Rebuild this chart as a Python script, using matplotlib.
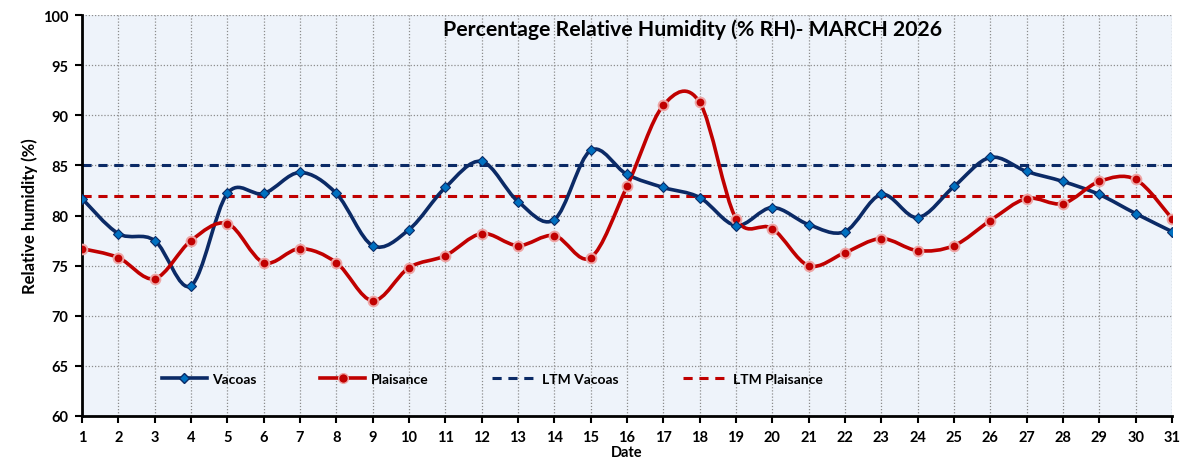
import numpy as np
import matplotlib.pyplot as plt
from matplotlib.path import Path
from matplotlib.patches import PathPatch
from matplotlib.lines import Line2D

plt.rcParams['font.family'] = ['Lato', 'DejaVu Sans']
plt.rcParams['font.weight'] = 'bold'

# data
days = list(range(1, 32))
vacoas = [81.7, 78.2, 77.5, 73.0, 82.2, 82.2, 84.3, 82.2, 77.0, 78.6,
          82.8, 85.4, 81.4, 79.6, 86.5, 84.1, 82.8, 81.8, 79.0, 80.8,
          79.1, 78.4, 82.1, 79.8, 82.9, 85.8, 84.4, 83.4, 82.1, 80.2, 78.4]
plaisance = [76.7, 75.8, 73.7, 77.5, 79.2, 75.3, 76.7, 75.3, 71.5, 74.8,
             76.0, 78.2, 77.0, 78.0, 75.8, 82.9, 91.0, 91.3, 79.7, 78.7,
             75.0, 76.3, 77.7, 76.5, 77.0, 79.5, 81.7, 81.2, 83.4, 83.6, 79.7]
ltm_vacoas = 85
ltm_plaisance = 82

navy = '#0B2A66'
red = '#C00000'


def smooth_path(x, y):
    # excel style smoothed line: cubic bezier through every point
    pts = np.column_stack([x, y]).astype(float)
    n = len(pts)
    verts = [pts[0]]
    codes = [Path.MOVETO]
    for i in range(n - 1):
        p0 = pts[max(i - 1, 0)]
        p1 = pts[i]
        p2 = pts[i + 1]
        p3 = pts[min(i + 2, n - 1)]
        verts += [p1 + (p2 - p0) / 6, p2 - (p3 - p1) / 6, p2]
        codes += [Path.CURVE4] * 3
    return Path(verts, codes)


fig = plt.figure(figsize=(11.82, 4.6), dpi=100)
ax = fig.add_axes([0.0694, 0.0935, 0.9221, 0.8715])
ax.set_facecolor('#EEF3FA')

ax.axhline(ltm_vacoas, color=navy, lw=2.2, ls=(0, (3, 2.2)), zorder=2)
ax.axhline(ltm_plaisance, color=red, lw=2.2, ls=(0, (3, 2.2)), zorder=2)

ax.add_patch(PathPatch(smooth_path(days, vacoas), fill=False, edgecolor=navy,
                       lw=2.6, zorder=3, capstyle='round'))
ax.add_patch(PathPatch(smooth_path(days, plaisance), fill=False, edgecolor=red,
                       lw=2.6, zorder=3, capstyle='round'))
ax.plot(days, vacoas, ls='none', marker='D', ms=5, mfc='#0070C0', mec=navy,
        mew=0.8, zorder=5)
ax.plot(days, plaisance, ls='none', marker='o', ms=7, mfc=red, mec='#EDA5A5',
        mew=1.4, zorder=4)

ax.set_xlim(1, 31)
ax.set_ylim(60, 100)
ax.set_xticks(days)
ax.set_yticks(range(60, 101, 5))
ax.grid(True, color='#8c8c8c', lw=0.9, ls=(0, (1, 1.5)))
ax.set_axisbelow(True)

for s in ['top', 'right']:
    ax.spines[s].set_visible(False)
for s in ['left', 'bottom']:
    ax.spines[s].set_linewidth(2)
    ax.spines[s].set_color('black')
ax.tick_params(direction='out', length=5, width=1.5, labelsize=10.5, pad=5)
for lab in ax.get_xticklabels() + ax.get_yticklabels():
    lab.set_fontweight('bold')

ax.set_xlabel('Date', fontsize=10.5, fontweight='bold', labelpad=1)
ax.set_ylabel('Relative humidity (%)', fontsize=12, fontweight='bold', labelpad=3)
ax.text(0.56, 0.965, 'Percentage Relative Humidity (% RH)- MARCH 2026',
        transform=ax.transAxes, ha='center', va='center', fontsize=15.3,
        fontweight='bold')

handles = [
    Line2D([], [], color=navy, lw=2.6, marker='D', ms=5, mfc='#0070C0', mec=navy),
    Line2D([], [], color=red, lw=2.6, marker='o', ms=7, mfc=red, mec='#EDA5A5'),
    Line2D([], [], color=navy, lw=2.2, ls=(0, (3, 2.2))),
    Line2D([], [], color=red, lw=2.2, ls=(0, (3, 2.2))),
]
ax.legend(handles, ['Vacoas', 'Plaisance', 'LTM Vacoas', 'LTM Plaisance'],
          ncol=4, frameon=False, loc='center left', bbox_to_anchor=(0.062, 0.092),
          prop={'weight': 'bold', 'size': 10}, handlelength=3.2,
          handletextpad=0.4, columnspacing=4.6)

fig.savefig('out.png', dpi=100)
